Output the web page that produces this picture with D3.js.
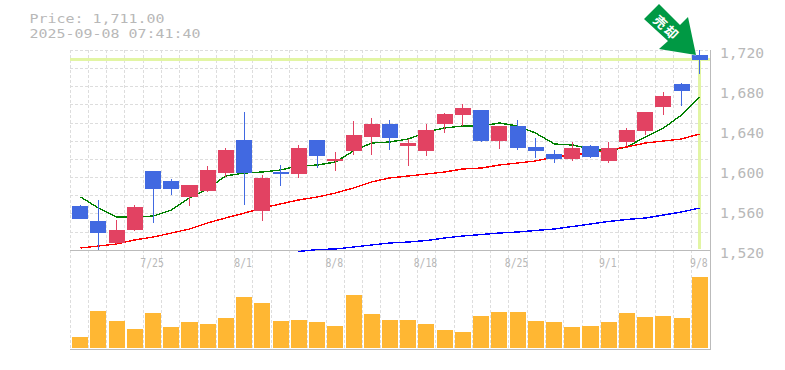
<!DOCTYPE html>
<html><head><meta charset="utf-8">
<script src="https://cdn.jsdelivr.net/npm/d3@7"></script>
<style>
html,body{margin:0;padding:0;background:#fff;overflow:hidden}
svg{display:block}
.mono{font-family:"DejaVu Sans Mono",monospace;fill:#b8b8b8}
</style></head><body><div id="chart"></div>
<script>
const dates=["7/18","7/22","7/23","7/24","7/25","7/28","7/29","7/30","7/31","8/1","8/4","8/5","8/6","8/7","8/8","8/12","8/13","8/14","8/15","8/18","8/19","8/20","8/21","8/22","8/25","8/26","8/27","8/28","8/29","9/1","9/2","9/3","9/4","9/5","9/8"];
const opens=[1564.5,1549.5,1527.5,1540.5,1599.5,1589.5,1573.5,1579.5,1597.5,1630.5,1559.5,1598.5,1596.5,1630.5,1609.5,1619.5,1633.5,1646.5,1624.5,1619.5,1646.5,1655.5,1660.5,1629.5,1644.5,1623.5,1616.5,1611.5,1624.5,1609.5,1628.5,1639.5,1663.5,1686.5,1715.5];
const highs=[1565.5,1570.5,1550.5,1565.5,1599.5,1591.5,1585.5,1604.5,1622.5,1658.5,1595.5,1605.5,1625.5,1630.5,1618.5,1649.5,1652.5,1650.5,1631.5,1646.5,1657.5,1666.5,1660.5,1644.5,1650.5,1632.5,1620.5,1628.5,1625.5,1628.5,1642.5,1658.5,1678.5,1687.5,1720.5];
const lows=[1551.5,1520.5,1526.5,1539.5,1547.5,1575.5,1564.5,1578.5,1593.5,1565.5,1549.5,1584.5,1592.5,1602.5,1599.5,1615.5,1615.5,1620.5,1604.5,1614.5,1637.5,1644.5,1628.5,1621.5,1620.5,1612.5,1607.5,1609.5,1612.5,1607.5,1624.5,1635.5,1655.5,1664.5,1696.5];
const closes=[1551.5,1537.5,1540.5,1563.5,1581.5,1581.5,1585.5,1600.5,1620.5,1597.5,1592.5,1596.5,1622.5,1614.5,1611.5,1635.5,1646.5,1632.5,1627.5,1640.5,1656.5,1662.5,1629.5,1644.5,1622.5,1619.5,1611.5,1622.5,1613.5,1622.5,1640.5,1658.5,1674.5,1679.5,1711];
const maShort=[1573.5,1562.5,1553.5,1553.5,1554.5,1560.5,1572.5,1581.5,1594.5,1597.5,1598.5,1600.5,1604.5,1605.5,1608.5,1619.5,1627.5,1628.5,1631.5,1638.5,1642.5,1644.5,1644.5,1647.5,1644.5,1637.5,1626.5,1625.5,1621.5,1619.5,1623.5,1633.5,1642.5,1655.5,1673.5];
const maMid=[1522.5,1524.5,1526.5,1530.5,1533.5,1537.5,1541.5,1547.5,1552.5,1557.5,1562.5,1566.5,1570.5,1573.5,1577.5,1582.5,1588.5,1592.5,1594.5,1596.5,1598.5,1601.5,1602.5,1605.5,1607.5,1609.5,1613.5,1615.5,1617.5,1620.5,1623.5,1627.5,1629.5,1631.5,1636.5];
const maLong=[null,null,null,null,null,null,null,null,null,null,null,null,1519,1521,1521.5,1523.5,1525.5,1527.5,1528.5,1530,1532.5,1534.5,1536,1537.5,1538.5,1540,1541.5,1544,1546.5,1549,1551,1552.5,1555.5,1558.5,1562.5];
const volumes=[11,37,27,19,35,21,26,24,30,51,45,27,28,26,22,53,34,28,28,24,18,16,32,36,36,27,26,21,22,26,35,31,32,30,71];
const priceTicks=[1520,1560,1600,1640,1680,1720];
const dateTicks=["7/25","8/1","8/8","8/18","8/25","9/1","9/8"];
const lastPrice=1711;
const titleLines=["Price: 1,711.00","2025-09-08 07:41:40"];
const signalLabel="売却";

const W=785,H=370;
const svg=d3.select("#chart").append("svg").attr("width",W).attr("height",H);
const x=d3.scaleBand().domain(dates).range([71,709]).paddingInner(0.12).paddingOuter(0.06);
const y=d3.scaleLinear().domain([1520,1720]).range([250.5,50.5]);
const v=d3.scaleLinear().domain([0,71]).range([348,277]);
const cx=d=>Math.floor(x(d)+x.bandwidth()/2)+.5;
const gridX=d3.scaleLinear().domain([0,35]).range([70,710]);
const gridY=d3.scaleLinear().domain([0,11]).range([50.3,250.3]);

// grid
const grid=svg.append("g").attr("stroke","#ddd").attr("stroke-dasharray","3,2").attr("shape-rendering","crispEdges");
grid.selectAll(".gx").data(d3.range(0,35)).join("line").attr("class","gx")
  .attr("x1",d=>Math.floor(gridX(d))+.5).attr("x2",d=>Math.floor(gridX(d))+.5).attr("y1",50).attr("y2",350);
grid.selectAll(".gy").data(d3.range(0,11)).join("line").attr("class","gy")
  .attr("y1",d=>Math.floor(gridY(d))+.5).attr("y2",d=>Math.floor(gridY(d))+.5).attr("x1",70).attr("x2",710);

// frame
const frame=svg.append("g").attr("stroke","#bbb").attr("stroke-width",1).attr("shape-rendering","crispEdges");
[[70,250.5,710,250.5],[70,349.5,711,349.5],[710.5,50,710.5,350]].forEach(c=>
  frame.append("line").attr("x1",c[0]).attr("y1",c[1]).attr("x2",c[2]).attr("y2",c[3]));

// volume
svg.append("g").attr("fill","#ffb733").attr("shape-rendering","crispEdges")
 .selectAll("rect").data(volumes).join("rect")
 .attr("x",(d,i)=>x(dates[i])).attr("width",x.bandwidth())
 .attr("y",d=>v(d)).attr("height",d=>v(0)-v(d));

// last price markers
const hl=svg.append("g").attr("stroke","#e2f5a4").attr("stroke-width",3).attr("shape-rendering","crispEdges");
hl.append("line").attr("x1",70).attr("x2",710).attr("y1",y(lastPrice)).attr("y2",y(lastPrice));
hl.append("line").attr("x1",cx(dates[34])).attr("x2",cx(dates[34])).attr("y1",y(lastPrice)).attr("y2",249);

// moving averages
const line=d3.line().defined(d=>d!==null).x((d,i)=>cx(dates[i])).y(d=>y(d));
[[maShort,"#008000"],[maMid,"#ff0000"],[maLong,"#0000ff"]].forEach(([s,c])=>
  svg.append("path").attr("d",line(s)).attr("fill","none").attr("stroke",c).attr("stroke-width",1.4).attr("shape-rendering","crispEdges"));

// candles
const up="#e24262",down="#4169e1";
const candle=svg.append("g").attr("shape-rendering","crispEdges").selectAll("g").data(dates).join("g");
candle.append("line").attr("x1",d=>cx(d)).attr("x2",d=>cx(d))
  .attr("y1",(d,i)=>y(highs[i])).attr("y2",(d,i)=>y(lows[i]))
  .attr("stroke",(d,i)=>closes[i]>=opens[i]?up:down).attr("stroke-width",1.4);
candle.append("rect").attr("x",d=>x(d)).attr("width",x.bandwidth())
  .attr("y",(d,i)=>y(Math.max(opens[i],closes[i])))
  .attr("height",(d,i)=>Math.abs(y(opens[i])-y(closes[i])))
  .attr("fill",(d,i)=>closes[i]>=opens[i]?up:down);

// axes
const yAxis=d3.axisRight(y).tickValues(priceTicks).tickFormat(d3.format(",")).tickSize(0).tickPadding(0);
const ya=svg.append("g").attr("transform","translate(720,0)").call(yAxis);
ya.select(".domain").remove();
ya.selectAll("text").attr("class","mono").attr("x",0).attr("dy",null)
  .attr("y",6.5).attr("font-size",14).attr("textLength",44).attr("lengthAdjust","spacingAndGlyphs");
const xAxis=d3.axisBottom(x).tickValues(dateTicks).tickSize(0).tickPadding(0);
const xa=svg.append("g").call(xAxis);
xa.attr("transform","translate(-1,250.5)");
xa.select(".domain").remove();
xa.selectAll("text").attr("class","mono").attr("y",16).attr("dy",null).attr("font-size",13)
  .attr("textLength",d=>d.length*5.9).attr("lengthAdjust","spacingAndGlyphs").attr("text-anchor","middle");

// header
svg.append("g").selectAll("text").data(titleLines).join("text").attr("class","mono")
  .attr("x",29.5).attr("y",(d,i)=>23+i*15.2).attr("font-size",13)
  .attr("textLength",d=>d.length*9).attr("lengthAdjust","spacingAndGlyphs").text(d=>d);

// signal arrow
svg.append("polygon").attr("points","659,4 644,19 668,41 659,49 696,55 688,17 680,25")
  .attr("fill","#009944").attr("stroke","#fff").attr("stroke-width",.8).attr("paint-order","stroke");
svg.append("text").attr("transform","translate(667,27.5) rotate(43)")
  .attr("text-anchor","middle").attr("dominant-baseline","central")
  .attr("font-family","'Noto Sans CJK JP'").attr("font-size",13).attr("font-weight",700)
  .attr("fill","#fff").attr("letter-spacing",2).text(signalLabel);
</script></body></html>
